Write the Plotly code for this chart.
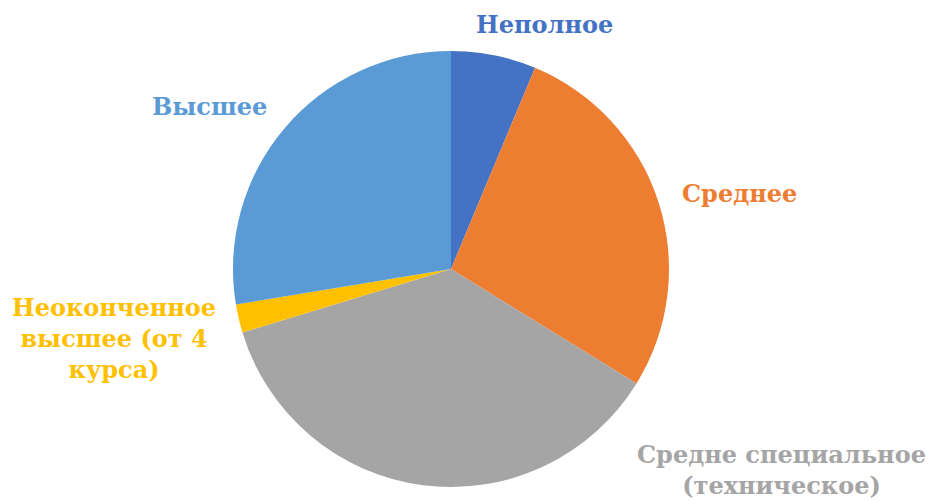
import plotly.graph_objects as go

categories = ["Неполное", "Среднее", "Средне специальное (техническое)",
              "Неоконченное высшее (от 4 курса)", "Высшее"]
values = [6.3, 27.5, 36.5, 2.1, 27.6]
colors = ["#4472C4", "#ED7D31", "#A5A5A5", "#FFC000", "#5B9BD5"]
label_texts = ["Неполное", "Среднее", "Средне специальное<br>(техническое)",
               "Неоконченное<br>высшее (от 4<br>курса)", "Высшее"]
label_x = [544, 739, 781, 114, 209]
label_y = [25, 193, 470, 338, 106]

W, H = 930, 502
cx, cy, r = 451, 269, 218

fig = go.Figure(go.Pie(
    labels=categories, values=values, sort=False, direction="clockwise",
    rotation=0, textinfo="none", hoverinfo="label+percent",
    marker=dict(colors=colors, line=dict(width=0)),
    domain=dict(x=[(cx - r) / W, (cx + r) / W], y=[(H - cy - r) / H, (H - cy + r) / H]),
    showlegend=False,
))

for t, x, y, c in zip(label_texts, label_x, label_y, colors):
    fig.add_annotation(text=t, x=x / W, y=1 - y / H, xref="paper", yref="paper",
                       showarrow=False, xanchor="center", yanchor="middle",
                       font=dict(family="DejaVu Serif", size=24, color=c, weight="bold"),
                       align="center")

fig.update_layout(width=W, height=H, margin=dict(l=0, r=0, t=0, b=0),
                  paper_bgcolor="white", plot_bgcolor="white")
fig.write_html("out.html", config={"displayModeBar": False},
               post_script="document.body.style.margin='0';document.body.style.overflow='hidden';")
